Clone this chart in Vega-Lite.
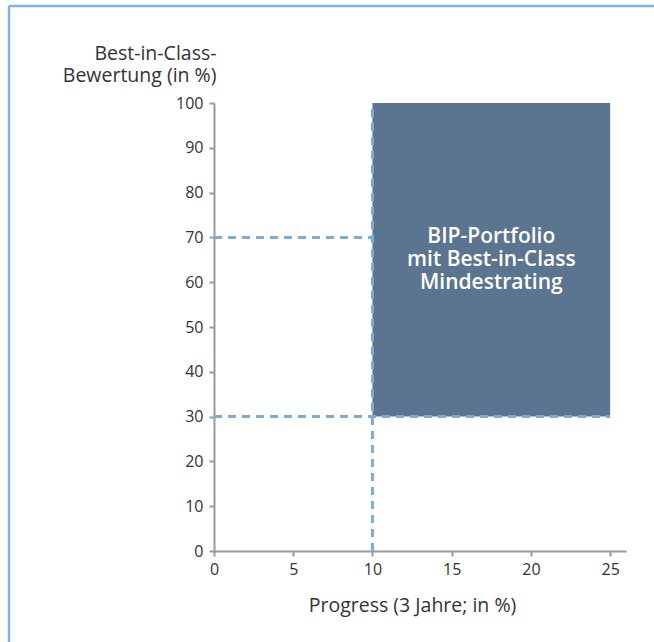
{
  "$schema": "https://vega.github.io/schema/vega-lite/v6.json",
  "width": 412,
  "height": 448,
  "autosize": {"type": "none"},
  "padding": {"left": 214, "top": 103, "right": 28, "bottom": 91},
  "background": "white",
  "config": {
    "view": {"stroke": null},
    "font": "Open Sans",
    "axis": {
      "grid": false,
      "domainColor": "#9a9a9a",
      "domainWidth": 2,
      "tickColor": "#9a9a9a",
      "tickWidth": 2,
      "tickSize": 5,
      "labelFlush": false,
      "labelFont": "Open Sans",
      "labelFontSize": 16,
      "labelColor": "#333333",
      "titleFont": "Open Sans",
      "titleFontSize": 19.5,
      "titleFontWeight": "normal",
      "titleColor": "#333333"
    }
  },
  "datasets": {
    "region": [{"x": 10, "x2": 25, "y": 30, "y2": 100}],
    "lines": [
      {"x": 0, "x2": 10, "y": 70, "y2": 70},
      {"x": 0, "x2": 25, "y": 30, "y2": 30},
      {"x": 10, "x2": 10, "y": 0, "y2": 100}
    ],
    "label": [{"x": 17.5, "y": 65, "text": "BIP-Portfolio|mit Best-in-Class|Mindestrating"}],
    "frame": [{"side": "left"}]
  },
  "layer": [
    {
      "data": {"name": "region"},
      "mark": {"type": "rect", "color": "#5b7490"},
      "encoding": {
        "x": {
          "field": "x", "type": "quantitative",
          "scale": {"domain": [0, 26], "nice": false, "zero": false},
          "axis": {
            "values": [0, 5, 10, 15, 20, 25],
            "labelPadding": 5,
            "title": "Progress (3 Jahre; in %)",
            "titleX": 198,
            "titleY": 60,
            "titleBaseline": "alphabetic",
            "titleAnchor": "middle",
            "titleAlign": "center"
          }
        },
        "x2": {"field": "x2"},
        "y": {
          "field": "y", "type": "quantitative",
          "scale": {"domain": [0, 100], "nice": false},
          "axis": {
            "values": [0, 10, 20, 30, 40, 50, 60, 70, 80, 90, 100],
            "labelPadding": 6,
            "title": ["Best-in-Class-", "Bewertung (in %)"],
            "titleAngle": 0,
            "titleAlign": "right",
            "titleBaseline": "alphabetic",
            "titleX": 2,
            "titleY": -44,
            "titleLineHeight": 22
          }
        },
        "y2": {"field": "y2"}
      }
    },
    {
      "data": {"name": "lines"},
      "mark": {"type": "rule", "color": "#7aaed8", "strokeWidth": 3, "strokeDash": [8, 6]},
      "encoding": {
        "x": {"field": "x", "type": "quantitative"},
        "x2": {"field": "x2"},
        "y": {"field": "y", "type": "quantitative"},
        "y2": {"field": "y2"}
      }
    },
    {
      "data": {"name": "label"},
      "mark": {"type": "text", "color": "white", "font": "Open Sans", "fontSize": 21, "fontWeight": 600, "lineBreak": "|", "lineHeight": 23, "align": "center", "baseline": "middle", "dy": -23},
      "encoding": {
        "x": {"field": "x", "type": "quantitative"},
        "y": {"field": "y", "type": "quantitative"},
        "text": {"field": "text"}
      }
    },
    {
      "data": {"name": "frame"},
      "mark": {"type": "rule", "color": "#80b2dc", "strokeWidth": 2.5},
      "encoding": {
        "x": {"value": -205},
        "y": {"value": -97},
        "y2": {"value": 539}
      }
    },
    {
      "data": {"name": "frame"},
      "mark": {"type": "rule", "color": "#80b2dc", "strokeWidth": 2.5},
      "encoding": {
        "x": {"value": -205},
        "x2": {"value": 440},
        "y": {"value": -97}
      }
    }
  ]
}
